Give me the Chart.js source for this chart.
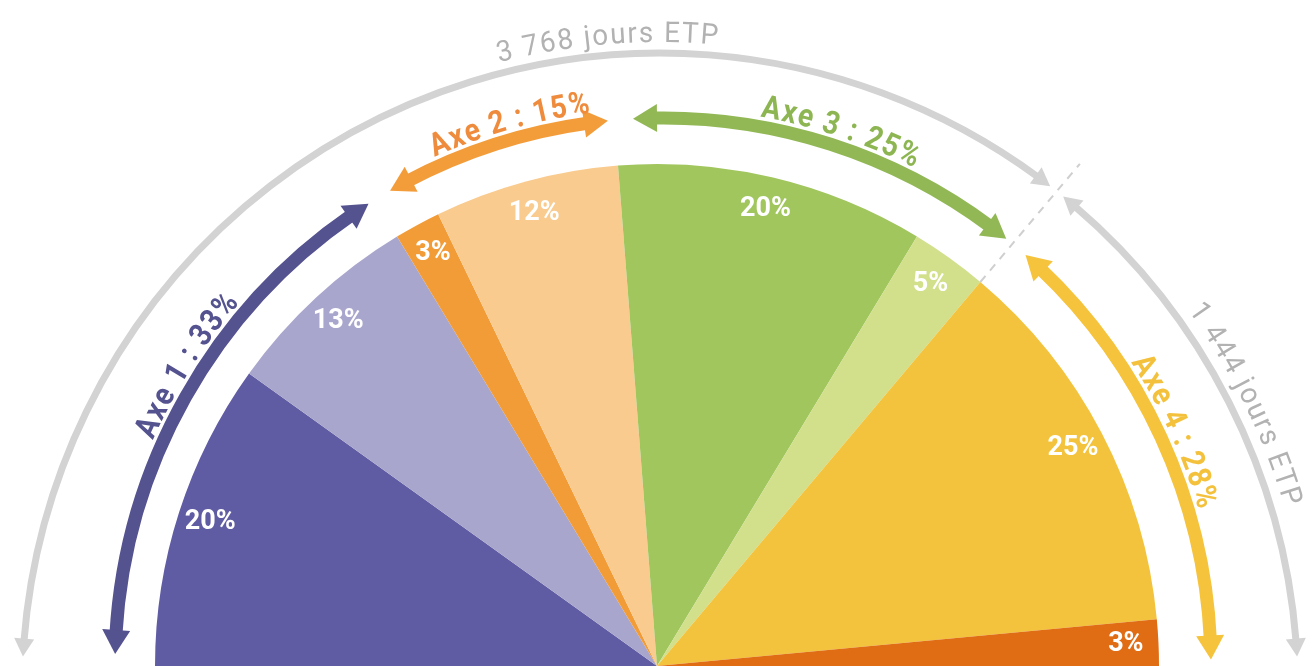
<!DOCTYPE html>
<html>
<head>
<meta charset="utf-8">
<script src="https://cdn.jsdelivr.net/npm/chart.js@4.4.1/dist/chart.umd.min.js"></script>
<style>
  html, body { margin: 0; padding: 0; background: #fff; overflow: hidden; }
  #wrap { width: 1314px; height: 666px; }
</style>
</head>
<body>
<div id="wrap"><canvas id="chart"></canvas></div>
<script>
// slices, left to right over the top
const sliceNames = ['Axe 1 (a)', 'Axe 1 (b)', 'Axe 2 (a)', 'Axe 2 (b)', 'Axe 3 (a)', 'Axe 3 (b)', 'Axe 4 (a)', 'Axe 4 (b)']
const slicePct = [20, 13, 3, 12, 20, 5, 25, 3]
const sliceColors = ['#605ca3', '#a9a6cd', '#f29c38', '#f9cb8f', '#a2c65e', '#d2df8b', '#f4c33d', '#e06c14']

// axes = groups of slices
const axisNames = ['Axe 1', 'Axe 2', 'Axe 3', 'Axe 4']
const axisSlices = [[0, 1], [2, 3], [4, 5], [6, 7]]
const axisColors = ['#54528f', '#f39c3a', '#92b856', '#f5c33c']
const axisTextColors = ['#54528f', '#ef8b3c', '#8db653', '#f4c13c']
const axisLabelShift = [0.05, 0.035, 0.01, 0] // radians, clockwise

// FTE days, per group of axes
const etpDays = [3768, 1444]
const etpAxes = [[0, 1, 2], [3]]

const fmtDays = n => String(n).replace(/\B(?=(\d{3})+(?!\d))/g, ' ') + ' jours ETP'

function arcArrow(ctx, x, y, r, a0, a1, width, headLen, headHalf, color) {
  const da = headLen / r
  ctx.strokeStyle = color
  ctx.fillStyle = color
  ctx.lineWidth = width
  ctx.lineCap = 'butt'
  ctx.beginPath()
  ctx.arc(x, y, r, a0 + da * 0.8, a1 - da * 0.8)
  ctx.stroke()
  const head = (tip, dir) => {
    const base = tip + dir * da
    ctx.beginPath()
    ctx.moveTo(x + Math.cos(tip) * r, y + Math.sin(tip) * r)
    ctx.lineTo(x + Math.cos(base) * (r + headHalf), y + Math.sin(base) * (r + headHalf))
    ctx.lineTo(x + Math.cos(base) * (r - headHalf), y + Math.sin(base) * (r - headHalf))
    ctx.closePath()
    ctx.fill()
  }
  head(a0, 1)
  head(a1, -1)
}

// text bent along a circle, read clockwise, tops of letters outward
function arcText(ctx, text, x, y, r, mid, font, color, spacing, hScale) {
  ctx.font = font
  ctx.fillStyle = color
  ctx.textAlign = 'center'
  ctx.textBaseline = 'alphabetic'
  const chars = [...text]
  const widths = chars.map(c => ctx.measureText(c).width * hScale)
  const total = widths.reduce((s, w) => s + w, 0) + spacing * (chars.length - 1)
  let a = mid - total / 2 / r
  chars.forEach((c, i) => {
    const ac = a + widths[i] / 2 / r
    ctx.save()
    ctx.translate(x + Math.cos(ac) * r, y + Math.sin(ac) * r)
    ctx.rotate(ac + Math.PI / 2)
    ctx.scale(hScale, 1)
    ctx.fillText(c, 0, 0)
    ctx.restore()
    a += (widths[i] + spacing) / r
  })
}

const decor = {
  id: 'decor',
  afterDraw(chart) {
    const ctx = chart.ctx
    const arcs = chart.getDatasetMeta(0).data
    const cx = arcs[0].x, cy = arcs[0].y, R = arcs[0].outerRadius
    ctx.save()

    // slice labels
    ctx.font = 'bold 27px Roboto'
    ctx.fillStyle = '#fff'
    ctx.textAlign = 'center'
    ctx.textBaseline = 'middle'
    arcs.forEach((a, i) => {
      const m = (a.startAngle + a.endAngle) / 2
      ctx.fillText(slicePct[i] + '%', cx + Math.cos(m) * R * 0.935, cy + Math.sin(m) * R * 0.935)
    })

    // coloured axis arrows
    const ax = cx + 6, ay = cy, ar = R + 46
    axisSlices.forEach((idx, i) => {
      const s = arcs[idx[0]].startAngle
      const e = arcs[idx[idx.length - 1]].endAngle
      const a0 = s + (i === 0 ? 0.022 : 0.023)
      const a1 = e - (i === axisSlices.length - 1 ? 0.012 : 0.023)
      arcArrow(ctx, ax, ay, ar, a0, a1, 13, 24, 14, axisColors[i])
      const pct = idx.reduce((t, k) => t + slicePct[k], 0)
      arcText(ctx, axisNames[i] + ' : ' + pct + '%', ax, ay, ar + 10, (a0 + a1) / 2 + axisLabelShift[i],
        'bold 32px Roboto', axisTextColors[i], 1.6, 0.88)
    })

    // split line between the two FTE groups
    const splitSlice = axisSlices[etpAxes[0][etpAxes[0].length - 1]]
    const b = arcs[splitSlice[splitSlice.length - 1]].endAngle
    const gx = cx + 3, gy = cy + 25, gr = R + 136
    const ux = Math.cos(b), uy = Math.sin(b)
    const qx = cx - gx, qy = cy - gy
    const qu = qx * ux + qy * uy
    const t = -qu + Math.sqrt(qu * qu - (qx * qx + qy * qy) + gr * gr)
    const split = Math.atan2(qy + t * uy, qx + t * ux)

    ctx.strokeStyle = '#cfcfcf'
    ctx.lineWidth = 2
    ctx.setLineDash([8, 7])
    ctx.beginPath()
    ctx.moveTo(cx + ux * R, cy + uy * R)
    ctx.lineTo(cx + ux * (t + 36), cy + uy * (t + 36))
    ctx.stroke()
    ctx.setLineDash([])

    // grey FTE arrows
    const ends = [[-Math.PI + 0.054, split - 0.013], [split + 0.013, -0.054]]
    ends.forEach(([a0, a1], i) => {
      arcArrow(ctx, gx, gy, gr, a0, a1, 7, 18, 10, '#d3d3d3')
      const mid = i === 0 ? -Math.PI / 2 - 0.081 : (a0 + a1) / 2 + 0.015
      arcText(ctx, fmtDays(etpDays[i]), gx, gy, gr + (i === 0 ? 11 : 13), mid, '29px Roboto', '#b2b2b2', 1.8, 0.96)
    })

    ctx.restore()
  }
}

new Chart(document.getElementById('chart'), {
  type: 'pie',
  data: {
    labels: sliceNames,
    datasets: [{
      data: slicePct,
      backgroundColor: sliceColors,
      borderWidth: 0
    }]
  },
  options: {
    responsive: true,
    maintainAspectRatio: false,
    animation: false,
    rotation: -90,
    circumference: 180,
    layout: { padding: { top: 164, left: 0, right: 0, bottom: 0 } },
    plugins: {
      legend: { display: false },
      tooltip: { enabled: false }
    }
  },
  plugins: [decor]
})
</script>
</body>
</html>
